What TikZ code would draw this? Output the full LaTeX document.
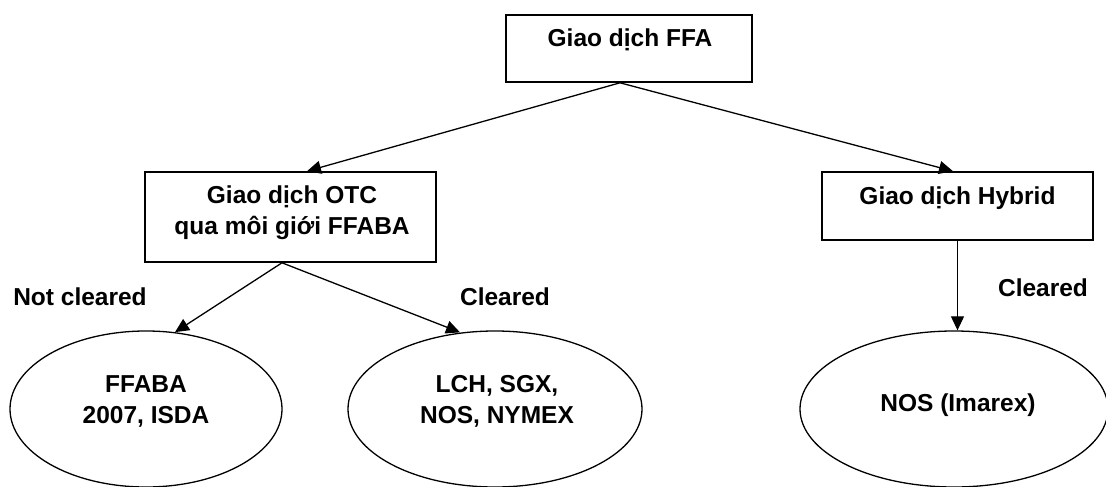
\documentclass[tikz,border=0pt]{standalone}
\usepackage{fontspec}
\setmainfont{Liberation Sans}
\usetikzlibrary{arrows.meta,shapes.geometric}
\begin{document}
\begin{tikzpicture}[x=1pt,y=-1pt,
  every node/.style={font=\bfseries\fontsize{24.5}{31}\selectfont, align=center, inner sep=0pt},
  boxnode/.style={draw, line width=1.6pt, rectangle},
  ellnode/.style={draw, line width=1.3pt, ellipse},
  arr/.style={line width=1.3pt, -{Triangle[length=14pt,width=13pt]}},
  txt/.style={}]
\useasboundingbox (0,0) rectangle (1106,487);
% boxes
\node[boxnode, minimum width=246pt, minimum height=67pt] (ffa) at (629,48.5) {};
\node[txt] (ffat) at (630,40) {Giao dịch FFA};
\node[boxnode, minimum width=291pt, minimum height=90pt] (otc) at (290.5,217) {};
\node[txt] (otct) at (292,212.5) {Giao dịch OTC\\qua môi giới FFABA};
\node[boxnode, minimum width=271pt, minimum height=68pt] (hyb) at (957.5,206) {};
\node[txt] (hybt) at (957.5,198) {Giao dịch Hybrid};
% ellipses
\node[ellnode, minimum width=272pt, minimum height=156pt] (e1) at (146,409) {};
\node[txt] (e1t) at (146,401) {FFABA\\2007, ISDA};
\node[ellnode, minimum width=294pt, minimum height=156pt] (e2) at (495,409) {};
\node[txt] (e2t) at (497,401) {LCH, SGX,\\NOS, NYMEX};
\node[ellnode, minimum width=308pt, minimum height=156pt] (e3) at (954,409) {};
\node[txt] (e3t) at (958,405) {NOS (Imarex)};
% labels
\node[txt] (l1) at (80,297) {Not cleared};
\node[txt] (l2) at (505,297) {Cleared};
\node[txt] (l3) at (1043,288) {Cleared};
% arrows
\draw[arr] ([xshift=-9pt]ffa.south) -- ([xshift=16.5pt]otc.north);
\draw[arr] ([xshift=-9pt]ffa.south) -- ([xshift=-4.5pt]hyb.north);
\draw[arr] ([xshift=-8.5pt]otc.south) -- ([xshift=29pt,yshift=-1.8pt]e1.north);
\draw[arr] ([xshift=-8.5pt]otc.south) -- ([xshift=-35pt,yshift=-2pt]e2.north);
\draw[line width=1pt, -{Triangle[length=14pt,width=13pt]}] (hyb.south) -- (hyb.south |- e3.north);
\end{tikzpicture}
\end{document}
